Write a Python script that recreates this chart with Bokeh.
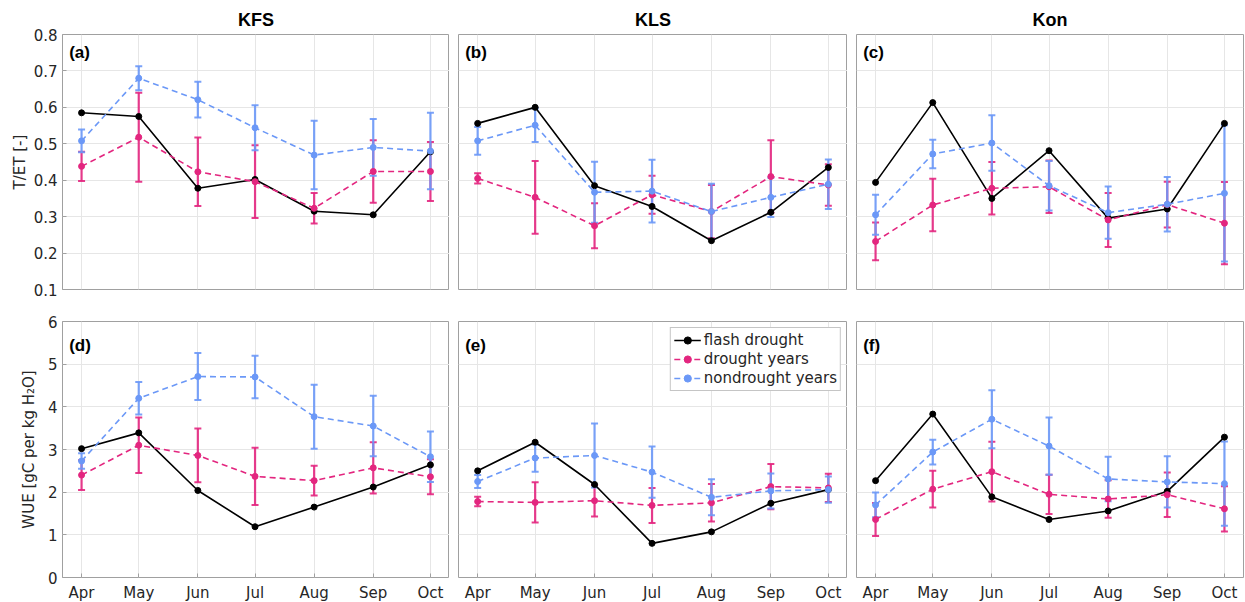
from bokeh.plotting import figure
from bokeh.layouts import column, row
from bokeh.models import (ColumnDataSource, Whisker, TeeHead, FixedTicker, Range1d,
                          Label, Legend, LegendItem)
from bokeh.embed import file_html
from bokeh.resources import INLINE

# ---------------- data ----------------
months = ["Apr", "May", "Jun", "Jul", "Aug", "Sep", "Oct"]
month_day = [91, 121, 152, 182, 213, 244, 274]   # day of year of the 1st of each month
sites = ["KFS", "KLS", "Kon"]
panel_letters = [["(a)", "(b)", "(c)"], ["(d)", "(e)", "(f)"]]

tet_ticks = [0.1, 0.2, 0.3, 0.4, 0.5, 0.6, 0.7, 0.8]
wue_ticks = [0, 1, 2, 3, 4, 5, 6]

# T/ET
kfs_tet_flash = [0.585, 0.575, 0.378, 0.402, 0.315, 0.305, 0.478]
kfs_tet_dry = [0.438, 0.518, 0.423, 0.396, 0.323, 0.424, 0.424]
kfs_tet_dry_err = [0.040, 0.122, 0.094, 0.100, 0.042, 0.086, 0.081]
kfs_tet_wet = [0.508, 0.680, 0.621, 0.544, 0.469, 0.490, 0.480]
kfs_tet_wet_err = [0.031, 0.033, 0.049, 0.062, 0.094, 0.078, 0.105]

kls_tet_flash = [0.556, 0.600, 0.385, 0.328, 0.234, 0.312, 0.435]
kls_tet_dry = [0.405, 0.353, 0.275, 0.360, 0.314, 0.410, 0.387]
kls_tet_dry_err = [0.014, 0.100, 0.062, 0.052, 0.073, 0.100, 0.057]
kls_tet_wet = [0.508, 0.551, 0.367, 0.370, 0.314, 0.353, 0.389]
kls_tet_wet_err = [0.038, 0.046, 0.084, 0.086, 0.076, 0.054, 0.068]

kon_tet_flash = [0.394, 0.613, 0.350, 0.481, 0.296, 0.321, 0.556]
kon_tet_dry = [0.232, 0.332, 0.378, 0.382, 0.291, 0.333, 0.282]
kon_tet_dry_err = [0.052, 0.072, 0.072, 0.072, 0.074, 0.063, 0.113]
kon_tet_wet = [0.305, 0.472, 0.502, 0.385, 0.311, 0.334, 0.364]
kon_tet_wet_err = [0.055, 0.039, 0.076, 0.068, 0.072, 0.075, 0.187]

# WUE
kfs_wue_flash = [3.02, 3.39, 2.04, 1.19, 1.65, 2.12, 2.64]
kfs_wue_dry = [2.40, 3.10, 2.86, 2.37, 2.27, 2.57, 2.36]
kfs_wue_dry_err = [0.35, 0.65, 0.63, 0.67, 0.35, 0.60, 0.41]
kfs_wue_wet = [2.73, 4.20, 4.71, 4.70, 3.77, 3.55, 2.83]
kfs_wue_wet_err = [0.18, 0.38, 0.55, 0.50, 0.75, 0.71, 0.59]

kls_wue_flash = [2.50, 3.17, 2.18, 0.80, 1.07, 1.74, 2.06]
kls_wue_dry = [1.78, 1.76, 1.80, 1.69, 1.75, 2.13, 2.10]
kls_wue_dry_err = [0.11, 0.47, 0.37, 0.41, 0.44, 0.53, 0.33]
kls_wue_wet = [2.25, 2.80, 2.86, 2.47, 1.88, 2.03, 2.06]
kls_wue_wet_err = [0.15, 0.32, 0.75, 0.60, 0.42, 0.41, 0.31]

kon_wue_flash = [2.27, 3.83, 1.89, 1.36, 1.56, 2.02, 3.29]
kon_wue_dry = [1.36, 2.07, 2.48, 1.95, 1.84, 1.94, 1.61]
kon_wue_dry_err = [0.385, 0.43, 0.70, 0.46, 0.44, 0.52, 0.53]
kon_wue_wet = [1.70, 2.94, 3.71, 3.08, 2.31, 2.24, 2.20]
kon_wue_wet_err = [0.29, 0.29, 0.68, 0.67, 0.52, 0.60, 0.99]

# ---------------- style ----------------
BLACK = "#000000"
RED = "#e3267f"
BLUE = "#6b98f7"
TXT = "#262626"
EDGE = "#a0a0a0"
GRID = "#e6e6e6"
TICK_FONT = "DejaVu Sans"
BOLD_FONT = "Liberation Sans"

panels = [
    [(kfs_tet_flash, kfs_tet_dry, kfs_tet_dry_err, kfs_tet_wet, kfs_tet_wet_err),
     (kls_tet_flash, kls_tet_dry, kls_tet_dry_err, kls_tet_wet, kls_tet_wet_err),
     (kon_tet_flash, kon_tet_dry, kon_tet_dry_err, kon_tet_wet, kon_tet_wet_err)],
    [(kfs_wue_flash, kfs_wue_dry, kfs_wue_dry_err, kfs_wue_wet, kfs_wue_wet_err),
     (kls_wue_flash, kls_wue_dry, kls_wue_dry_err, kls_wue_wet, kls_wue_wet_err),
     (kon_wue_flash, kon_wue_dry, kon_wue_dry_err, kon_wue_wet, kon_wue_wet_err)],
]

frame_w = [387, 389, 387]
border_l = [62, 9, 9]
border_r = [0, 0, 2]

legend_renderers = {}


def make_panel(r, c):
    flash, dry, dry_err, wet, wet_err = panels[r][c]
    top = (r == 0)
    y0, y1 = (0.1, 0.8) if top else (0, 6)
    yt = tet_ticks if top else wue_ticks
    p = figure(output_backend="svg", toolbar_location=None,
               frame_width=frame_w[c], frame_height=255 if top else 256,
               min_border_left=border_l[c], min_border_right=border_r[c],
               min_border_top=34 if top else 16, min_border_bottom=16 if top else 25,
               x_range=Range1d(81, 284), y_range=Range1d(y0, y1),
               background_fill_color="white", border_fill_color="white")
    p.outline_line_color = EDGE
    p.outline_line_width = 1
    if top:
        p.title.text = sites[c]
        p.title.align = "center"
        p.title.text_font = BOLD_FONT
        p.title.text_font_style = "bold"
        p.title.text_font_size = "18px"
        p.title.text_color = "#000000"
        p.title.offset = 0

    p.xaxis.ticker = FixedTicker(ticks=month_day)
    p.xaxis.major_label_overrides = {d: m for d, m in zip(month_day, months)}
    p.yaxis.ticker = FixedTicker(ticks=yt)
    for ax in (p.xaxis[0], p.yaxis[0]):
        ax.axis_line_color = None
        ax.major_tick_line_color = EDGE
        ax.major_tick_in = 4
        ax.major_tick_out = 0
        ax.minor_tick_line_color = None
        ax.major_label_text_font = TICK_FONT
        ax.major_label_text_font_size = "15px"
        ax.major_label_text_color = TXT
        ax.major_label_standoff = 6
    if top:
        p.xaxis.visible = False
    if c > 0:
        p.yaxis.visible = False
    else:
        p.yaxis.major_label_standoff = 5
        p.yaxis.axis_label = "T/ET [-]" if top else "WUE [gC per kg H\u2082O]"
        p.yaxis.axis_label_text_font = TICK_FONT
        p.yaxis.axis_label_text_font_style = "normal"
        p.yaxis.axis_label_text_font_size = "15px"
        p.yaxis.axis_label_text_color = TXT
        p.yaxis.axis_label_standoff = 2 if top else 7

    p.xgrid.ticker = FixedTicker(ticks=month_day)
    p.ygrid.ticker = FixedTicker(ticks=yt)
    p.grid.grid_line_color = GRID
    p.grid.grid_line_width = 1

    # flash drought
    fl = p.line(month_day, flash, line_color=BLACK, line_width=1.6)
    fs = p.scatter(month_day, flash, size=6, color=BLACK)

    # drought and nondrought years with error bars
    out = [fl, fs]
    for vals, errs, col in ((dry, dry_err, RED), (wet, wet_err, BLUE)):
        src = ColumnDataSource(dict(x=month_day, y=vals,
                                    lo=[v - e for v, e in zip(vals, errs)],
                                    hi=[v + e for v, e in zip(vals, errs)]))
        w = Whisker(source=src, base="x", lower="lo", upper="hi", dimension="height",
                    line_color=col, line_width=2.2, line_alpha=0.9,
                    upper_head=TeeHead(size=7, line_color=col, line_width=2, line_alpha=0.9),
                    lower_head=TeeHead(size=7, line_color=col, line_width=2, line_alpha=0.9))
        p.add_layout(w)
        ln = p.line("x", "y", source=src, line_color=col, line_width=1.6, line_dash="6 4")
        sc = p.scatter("x", "y", source=src, size=6, color=col)
        out += [ln, sc]

    lab = Label(x=84.5, y=(0.778 if top else 5.66), text=panel_letters[r][c],
                text_font=BOLD_FONT, text_font_style="bold", text_font_size="17px",
                text_color="#000000", text_baseline="top", text_align="left")
    p.add_layout(lab)
    return p, out


figs = [[None] * 3, [None] * 3]
for r in range(2):
    for c in range(3):
        figs[r][c], rends = make_panel(r, c)
        if r == 1 and c == 1:
            legend_renderers = rends

pe = figs[1][1]
legend = Legend(items=[
    LegendItem(label="flash drought", renderers=legend_renderers[0:2]),
    LegendItem(label="drought years", renderers=legend_renderers[2:4]),
    LegendItem(label="nondrought years", renderers=legend_renderers[4:6]),
], location="top_right")
legend.margin = 6
legend.padding = 3
legend.spacing = 1
legend.glyph_width = 27
legend.glyph_height = 18
legend.label_height = 18
legend.label_standoff = 3
legend.label_text_font = TICK_FONT
legend.label_text_font_size = "15px"
legend.label_text_color = TXT
legend.border_line_color = "#8c8c8c"
legend.border_line_width = 1
legend.background_fill_color = "white"
legend.background_fill_alpha = 1
pe.add_layout(legend)

layout = column(row(*figs[0], spacing=0), row(*figs[1], spacing=0), spacing=0)

open("out.html", "w").write(file_html(layout, INLINE))
